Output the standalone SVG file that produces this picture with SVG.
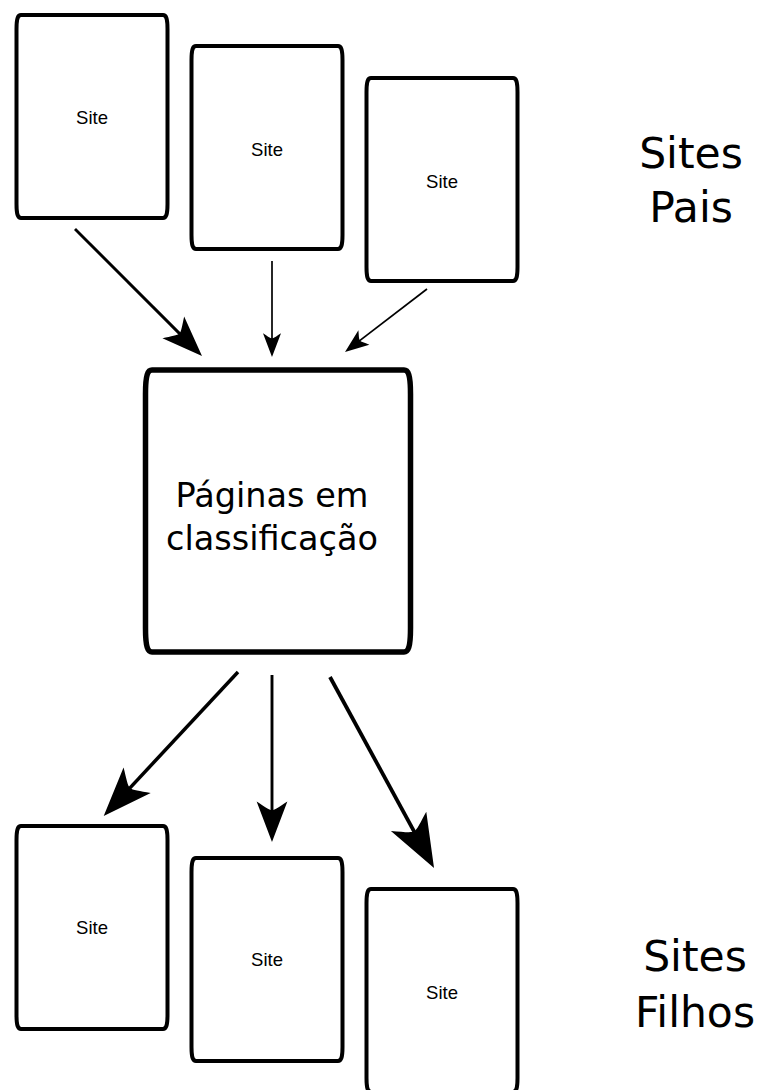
<svg xmlns="http://www.w3.org/2000/svg" xmlns:xlink="http://www.w3.org/1999/xlink" width="760" height="1090" viewBox="0 0 760 1090">
  <style>
    .box { fill: #ffffff; stroke: #000000; stroke-width: 4; stroke-linejoin: round; }
    .bigbox { fill: #ffffff; stroke: #000000; stroke-width: 5.5; stroke-linejoin: round; }
    .site { font-family: "Liberation Sans", Arial, sans-serif; font-size: 18.5px; fill: #000000; text-anchor: middle; }
    .main { font-family: "DejaVu Sans", sans-serif; font-size: 33.5px; fill: #000000; text-anchor: middle; }
    .group { font-family: "DejaVu Sans", sans-serif; font-size: 42.5px; fill: #000000; text-anchor: middle; }
    .link { fill: none; stroke: #000000; stroke-linecap: butt; marker-end: url(#head); }
  </style>
  <defs>
    <!-- arrowhead scaled by the line's stroke width -->
    <marker id="head" markerUnits="strokeWidth" markerWidth="16" markerHeight="12" refX="-8" refY="0" orient="auto" overflow="visible">
      <path d="M0,0 L-14,-5.3 C-12.3,-2.6 -11,-1 -11,0 C-11,1 -12.3,2.6 -14,5.3 Z" fill="#000000"/>
    </marker>
    <!-- site page outline, 154 x 207 outer size -->
    <path id="sitebox" d="M6,2 H148 C151,2 152.5,5 152.5,16 V191 C152.5,202 151,205 148,205 H6 C3,205 1.5,202 1.5,191 V16 C1.5,5 3,2 6,2 Z"/>
  </defs>

  <!-- parent sites -->
  <g id="pai1">
    <use xlink:href="#sitebox" class="box" x="15" y="13"/>
    <text class="site" x="92" y="124">Site</text>
  </g>
  <g id="pai2">
    <use xlink:href="#sitebox" class="box" x="190" y="44"/>
    <text class="site" x="267" y="156">Site</text>
  </g>
  <g id="pai3">
    <use xlink:href="#sitebox" class="box" x="365" y="76"/>
    <text class="site" x="442" y="188">Site</text>
  </g>

  <!-- page being ranked -->
  <g id="classificacao">
    <path class="bigbox" d="M152,370 H404 C408,370 410.5,374 410.5,394 V628 C410.5,648 408,652 404,652 H152 C148,652 145.5,648 145.5,628 V394 C145.5,374 148,370 152,370 Z"/>
    <text class="main" x="272" y="507">Páginas em</text>
    <text class="main" x="272" y="550">classificação</text>
  </g>

  <!-- child sites -->
  <g id="filho1">
    <use xlink:href="#sitebox" class="box" x="15" y="824"/>
    <text class="site" x="92" y="934">Site</text>
  </g>
  <g id="filho2">
    <use xlink:href="#sitebox" class="box" x="190" y="856"/>
    <text class="site" x="267" y="966">Site</text>
  </g>
  <g id="filho3">
    <use xlink:href="#sitebox" class="box" x="365" y="887"/>
    <text class="site" x="442" y="999">Site</text>
  </g>

  <!-- group labels -->
  <g id="rotulo-pais">
    <text class="group" x="691" y="168">Sites</text>
    <text class="group" x="691" y="222">Pais</text>
  </g>
  <g id="rotulo-filhos">
    <text class="group" x="695" y="971">Sites</text>
    <text class="group" x="695" y="1027">Filhos</text>
  </g>

  <!-- connectors -->
  <g id="connectors">
    <line class="link" x1="75" y1="229" x2="185.6" y2="339.6" stroke-width="2.9"/>
    <line class="link" x1="272" y1="261" x2="272" y2="343.4" stroke-width="1.7"/>
    <line class="link" x1="427" y1="289" x2="355.8" y2="343.7" stroke-width="1.7"/>
    <line class="link" x1="238" y1="672" x2="122.8" y2="795.6" stroke-width="3.5"/>
    <line class="link" x1="272" y1="675" x2="272" y2="818.8" stroke-width="2.9"/>
    <line class="link" x1="330" y1="677" x2="419.5" y2="841.3" stroke-width="3.8"/>
  </g>
</svg>
